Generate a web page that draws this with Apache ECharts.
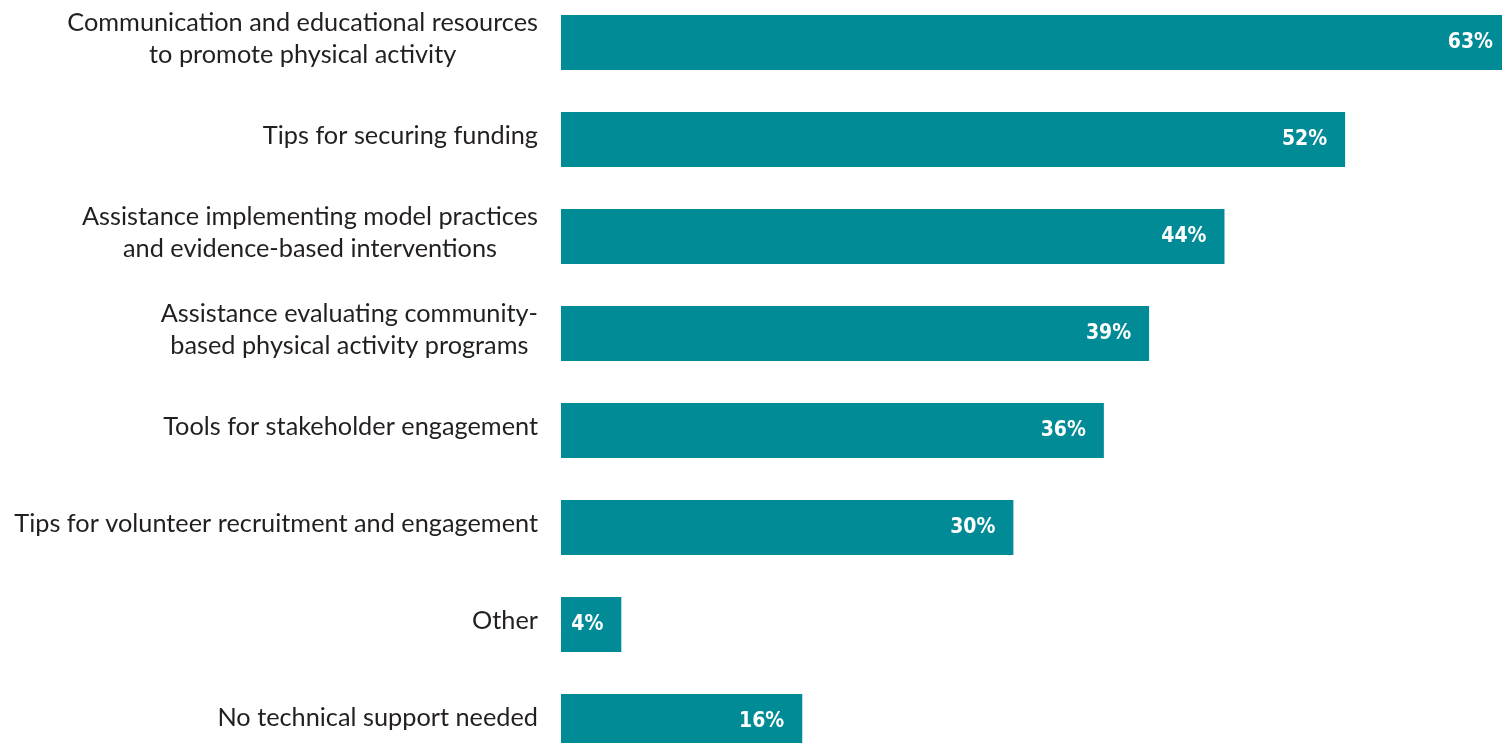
<!DOCTYPE html>
<html>
<head>
<meta charset="utf-8">
<title>Technical support needs</title>
<script src="https://cdn.jsdelivr.net/npm/echarts@6/dist/echarts.min.js"></script>
<style>
  html, body { margin: 0; padding: 0; background: #ffffff; overflow: hidden; width: 1502px; height: 743px; }
  /* the plot runs slightly past the page edges, so the canvas is oversized and shifted */
  #chart { position: absolute; left: 0; top: -20px; width: 1540px; height: 800px; }
</style>
</head>
<body>
<div id="chart"></div>
<script>
// Technical support topics, top to bottom; "\n" marks the line breaks
const categories = [
  'Communication and educational resources\nto promote physical activity',
  'Tips for securing funding',
  'Assistance implementing model practices\nand evidence-based interventions',
  'Assistance evaluating community-\nbased physical activity programs',
  'Tools for stakeholder engagement',
  'Tips for volunteer recruitment and engagement',
  'Other',
  'No technical support needed'
];

// Share of respondents (%)
const percentages = [63, 52, 44, 39, 36, 30, 4, 16];

const BAR_COLOR = '#008b96';
const TEXT_COLOR = '#231f20';

const chart = echarts.init(document.getElementById('chart'), null, { renderer: 'canvas' });

chart.setOption({
  animation: false,
  backgroundColor: '#ffffff',
  grid: {
    left: 561,
    right: 29,
    top: 14,
    bottom: 10,
    containLabel: false
  },
  xAxis: {
    type: 'value',
    min: 0,
    max: 63,
    show: false
  },
  yAxis: {
    type: 'category',
    data: categories,
    inverse: true,
    axisLine: { show: false },
    axisTick: { show: false },
    splitLine: { show: false },
    axisLabel: {
      margin: 23,
      align: 'right',
      padding: [0, 0, 8, 0],
      // each line is centred within the label block
      formatter: function (value) {
        return value.split('\n').map(function (line) { return '{c|' + line + '}'; }).join('\n');
      },
      rich: {
        c: {
          align: 'center',
          fontFamily: 'Lato, "Noto Sans", sans-serif',
          fontSize: 25.3,
          lineHeight: 32,
          color: TEXT_COLOR
        }
      }
    }
  },
  series: [{
    type: 'bar',
    data: percentages,
    barWidth: 55,
    itemStyle: { color: BAR_COLOR },
    label: {
      show: true,
      position: 'insideRight',
      distance: 18,
      formatter: '{c}%',
      color: '#ffffff',
      fontFamily: '"DejaVu Sans Condensed", "Liberation Sans Narrow", sans-serif',
      fontWeight: 'bold',
      fontSize: 21
    }
  }]
});
</script>
</body>
</html>
